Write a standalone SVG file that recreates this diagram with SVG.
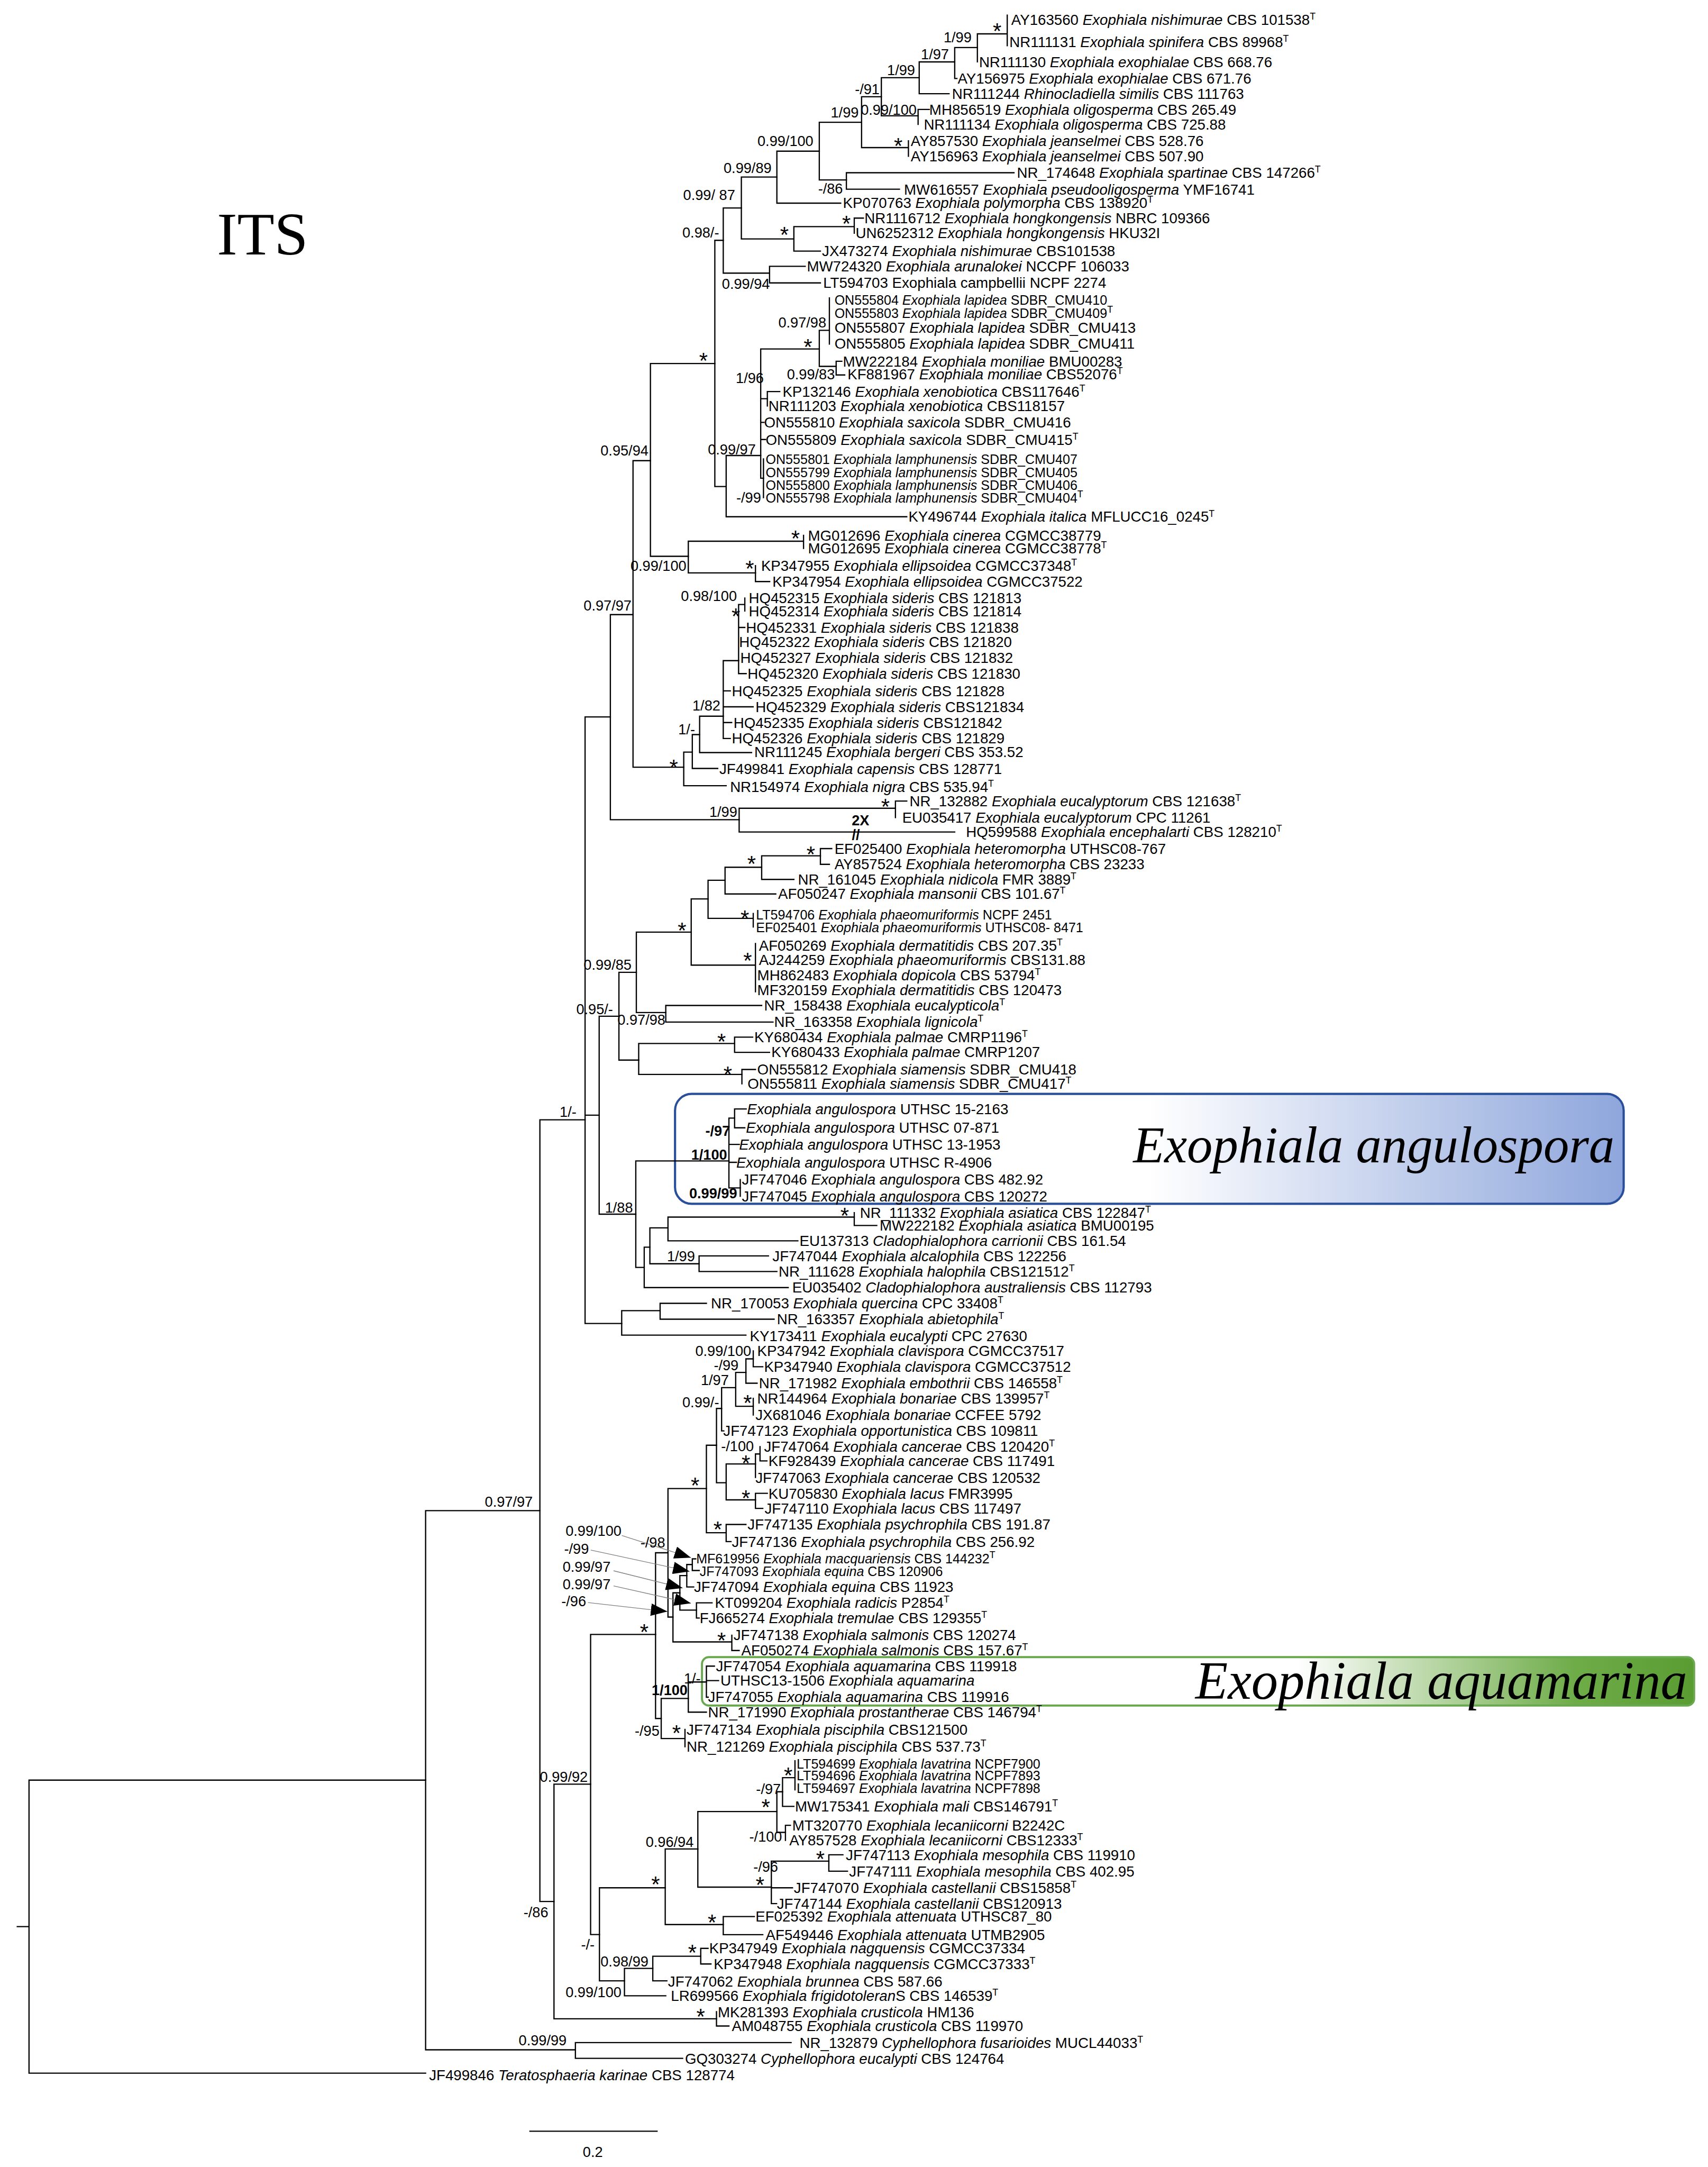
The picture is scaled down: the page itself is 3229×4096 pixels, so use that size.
<svg xmlns="http://www.w3.org/2000/svg" width="3229" height="4096" viewBox="0 0 3229 4096">
<style>
.l{font-family:"Liberation Sans",Arial,sans-serif;font-size:10.6px;fill:#000}
.lv{font-size:9.6px}
.i{font-style:italic}
.T{font-size:6.8px}
.s{font-family:"Liberation Sans",Arial,sans-serif;font-size:10.4px;text-anchor:middle;fill:#000}
.b{font-weight:bold}
.st{font-family:"Liberation Sans",Arial,sans-serif;font-size:16px;text-anchor:middle;fill:#000}
.br path{fill:none;stroke:#000;stroke-width:0.9;stroke-linecap:square}
.ld{fill:none;stroke:#808080;stroke-width:0.5}
.big{font-family:"Liberation Serif","Times New Roman",serif;font-style:italic;font-size:37px;fill:#000}
</style>
<defs>
<linearGradient id="gb" x1="0" y1="0" x2="1" y2="0"><stop offset="0" stop-color="#fff"/><stop offset="0.5" stop-color="#fff"/><stop offset="1" stop-color="#8ea6dc"/></linearGradient>
<linearGradient id="gg" x1="0" y1="0" x2="1" y2="0"><stop offset="0" stop-color="#fff"/><stop offset="0.6" stop-color="#fff"/><stop offset="0.88" stop-color="#6eac48"/><stop offset="1" stop-color="#5a9c32"/></linearGradient>
<marker id="ah" markerUnits="userSpaceOnUse" markerWidth="12" markerHeight="9" viewBox="0 0 12 9" refX="12" refY="4.5" orient="auto"><path d="M0,0L12,4.5L0,9z" fill="#000"/></marker>
</defs>
<rect width="3229" height="4096" fill="#fff"/>
<g transform="scale(2.6124)">
<g id="title"><text x="157" y="184" style="font-family:'Liberation Serif','Times New Roman',serif;font-size:44px">ITS</text></g>
<g id="box-angulospora"><rect x="488.5" y="791.5" width="686.5" height="79.5" rx="12" fill="url(#gb)" stroke="#2a4f9a" stroke-width="1.6"/><text class="big" x="820" y="841">Exophiala angulospora</text></g>
<g id="box-aquamarina"><rect x="508" y="1199" width="718" height="35" rx="5" fill="url(#gg)" stroke="#6aa84f" stroke-width="1.5"/><text class="big" x="865" y="1229" style="font-size:38.5px">Exophiala aquamarina</text></g>
<g id="branches" class="br">
<path d="M728.9 11V33M707.3 24.5V44.7M707.3 24.5H728.9"/>
<path d="M690.9 34.4V56.8M690.9 34.4H707.3M690.9 56.8H692.5"/>
<path d="M665.2 44.8V67.8M665.2 44.8H690.9M665.2 67.8H686.8"/>
<path d="M637.8 56.2V83.8M637.8 56.2H665.2M637.8 83.8H664.4"/>
<path d="M664.4 79.2V90M664.4 79.2H672.5"/>
<path d="M623.5 70V106.8M623.5 70H637.8M623.5 106.8H657.4M657.4 101.9V113"/>
<path d="M592.9 88.5V130.2M592.9 88.5H623.5M592.9 130.2H612.5"/>
<path d="M612.5 125V136.9M612.5 125H733.8M612.5 136.9H650.9"/>
<path d="M562.2 109.4V147M562.2 109.4H592.9M562.2 147H608.4"/>
<path d="M536.5 128.1V172.9M536.5 128.1H562.2M536.5 172.9H574.5"/>
<path d="M574.5 164V181.7M574.5 164H618.2M574.5 181.7H593.7M618.2 157.8V168.7M618.2 157.8H624.8"/>
<path d="M523.4 150.5V197.6M523.4 150.5H536.5M523.4 197.6H556.9"/>
<path d="M556.9 192.7V204.7M556.9 192.7H582.7M556.9 204.7H593.7"/>
<path d="M517.3 173.9V352M517.3 173.9H523.4M517.3 352H525.5"/>
<path d="M525.5 329.6V373.9M525.5 329.6H550.5M525.5 373.9H656.2"/>
<path d="M550.5 252.5V346M550.5 252.5H592.9M550.5 288.5H555.3M550.5 305.6H552.9M550.5 318H554M550.5 346H552.5"/>
<path d="M555.3 283.3V293.7M555.3 283.3H564.3M552.5 332V360"/>
<path d="M592.9 239V265.1M592.9 239H600.2M592.9 265.1H605.1M600.2 215.6V248.9"/>
<path d="M605.1 261.4V271.3M605.1 261.4H609.2M605.1 271.3H611.3"/>
<path d="M470.7 263V402.5M470.7 263H517.3M470.7 402.5H498.1"/>
<path d="M498.1 391.6V414.5M498.1 391.6H581.5M498.1 414.5H546.7M581.5 387.4V396.8"/>
<path d="M546.7 409.3V420.8M546.7 420.8H557"/>
<path d="M458.1 333.3V555.1M458.1 333.3H470.7M458.1 555.1H494.8"/>
<path d="M494.8 544.2V568.5M494.8 544.2H501M494.8 568.5H525.5"/>
<path d="M501 531.5V556M501 531.5H506.3M501 556H519.4"/>
<path d="M506.3 518.2V544.5M506.3 518.2H523.4M506.3 544.5H543.9"/>
<path d="M523.4 478V534.3M523.4 478H534.5M523.4 499.9H528.5M523.4 511.4H545M523.4 522.8H529.5M523.4 534.3H528.5"/>
<path d="M534.5 437.4V487.4M534.5 437.4H539M534.5 454H539M534.5 487.4H540M539 432.7V442.1"/>
<path d="M441.7 444.7V593.1M441.7 444.7H458.1M441.7 593.1H534.9"/>
<path d="M534.9 584.8V602M534.9 584.8H648M534.9 602H690.9M648 579.6V591.5M648 579.6H656.2"/>
<path d="M423.4 518.7V957.6M423.4 518.7H441.7M423.4 806.9H433.6M423.4 957.6H449.9"/>
<path d="M433.6 735.3V878.5M433.6 735.3H447.9M433.6 878.5H460.1"/>
<path d="M447.9 703.5V767M447.9 703.5H460.5M447.9 767H462.2"/>
<path d="M460.5 674.4V732.6M460.5 674.4H500.2M460.5 732.6H481.8"/>
<path d="M481.8 727.5V739.5M481.8 727.5H551.2M481.8 739.5H559.4"/>
<path d="M500.2 650.4V698.3M500.2 650.4H512.4M500.2 698.3H546.7M546.7 682.7V717.6"/>
<path d="M512.4 636.9V664.5M512.4 636.9H524.7M512.4 664.5H545.1M545.1 661V670.7"/>
<path d="M524.7 627.5V646.8M524.7 627.5H551.2M524.7 646.8H561.4"/>
<path d="M551.2 619.2V636.3M551.2 619.2H593.7M551.2 636.3H574.5"/>
<path d="M593.7 614V625.4M593.7 614H601.9M593.7 625.4H600.2"/>
<path d="M462.2 755V777.4M462.2 755H531.6M462.2 777.4H536.9"/>
<path d="M531.6 750.4V761.4M531.6 750.4H544.7M531.6 761.4H556.9"/>
<path d="M536.9 773.8V784.2M536.9 773.8H546.7"/>
<path d="M460.1 840V917M460.1 840H527.5M460.1 917H466.2"/>
<path d="M527.5 809V859.5M527.5 809H531.6M527.5 828H535M527.5 841H533M527.5 859.5H535.7"/>
<path d="M531.6 802.4V816M531.6 802.4H540M531.6 816H539M535.7 853.5V865.5"/>
<path d="M466.2 902.4V931.6M466.2 902.4H470.3M466.2 931.6H570.4"/>
<path d="M470.3 888.4V914.4M470.3 888.4H483.4M470.3 914.4H505.9"/>
<path d="M483.4 880.6V897.8M483.4 880.6H618.2M483.4 897.8H577.4"/>
<path d="M618.2 877.4V886.7M618.2 886.7H634.5"/>
<path d="M505.9 908.7V920M505.9 908.7H556.1M505.9 920H562.2"/>
<path d="M449.9 948.3V966M449.9 948.3H477.7M449.9 966H539.8"/>
<path d="M477.7 943V954.5M477.7 943H511.2M477.7 954.5H560.2"/>
<path d="M390.7 810.2V1375.8M390.7 810.2H423.4M390.7 1375.8H400.9"/>
<path d="M308 1093V1483.1M308 1093H390.7M308 1483.1H416.4"/>
<path d="M416.4 1477.9V1489.3M416.4 1477.9H572.5M416.4 1489.3H494"/>
<path d="M21 1288V1500M21 1288H308M21 1500H308M12.5 1394H21"/>
<path d="M400.9 1290.9V1460.7M400.9 1290.9H427.4M400.9 1460.7H518.5"/>
<path d="M518.5 1455.5V1465.9M518.5 1465.9H527.5"/>
<path d="M427.4 1182.6V1399.7M427.4 1182.6H474.4M427.4 1399.7H433.8"/>
<path d="M433.8 1365.9V1433.2M433.8 1365.9H481.4M433.8 1433.2H451.9"/>
<path d="M451.9 1424.2V1444M451.9 1424.2H472.4M451.9 1444H481.8"/>
<path d="M472.4 1415.4V1433.2M472.4 1415.4H507.1M472.4 1433.2H482.6"/>
<path d="M507.1 1409.7V1421M507.1 1409.7H512.4M507.1 1421H514.5"/>
<path d="M481.4 1337.8V1392.5M481.4 1337.8H505M481.4 1392.5H523.4"/>
<path d="M523.4 1386.7V1399.8M523.4 1386.7H545.9M523.4 1399.8H552"/>
<path d="M505 1310.7V1365.4M505 1310.7H562.2M505 1365.4H558.2"/>
<path d="M558.2 1346.6V1377.3M558.2 1346.6H599.8M558.2 1365.9H573.5M558.2 1377.3H562"/>
<path d="M599.8 1342V1353.9M599.8 1342H610M599.8 1353.9H613.3"/>
<path d="M562.2 1296.4V1325.8M562.2 1296.4H566.3M562.2 1325.8H568.4"/>
<path d="M566.3 1286.2V1307M566.3 1286.2H575.3M566.3 1307H574.5M575.3 1274V1295"/>
<path d="M568.4 1320.7V1331.6M568.4 1320.7H572"/>
<path d="M474.4 1123.5V1243.4M474.4 1123.5H483.4M474.4 1243.4H478.5"/>
<path d="M478.5 1228.9V1257.9M478.5 1228.9H498.1M478.5 1257.9H495.7M495.7 1251.3V1263.8"/>
<path d="M498.1 1217V1238.8M498.1 1217H511.2M498.1 1238.8H511.2"/>
<path d="M511.2 1205.5V1228M511.2 1205.5H517M511.2 1216H520M511.2 1228H512.5"/>
<path d="M483.4 1077V1170M483.4 1077H511.2M483.4 1170H487"/>
<path d="M487 1152.5V1188M487 1152.5H492M487 1188H529.6M529.6 1183.2V1194.2M529.6 1194.2H534.9"/>
<path d="M492 1140V1165M492 1140H497M492 1165H504"/>
<path d="M497 1132V1148.2M497 1132H501M497 1148.2H502"/>
<path d="M501 1127.9V1136.3M501 1127.9H503.5M501 1136.3H506"/>
<path d="M504 1159.7V1170.7M504 1159.7H515.3M504 1170.7H506"/>
<path d="M511.2 1045.7V1109M511.2 1045.7H518.5M511.2 1109H525.5"/>
<path d="M525.5 1103V1115.4M525.5 1103H539.8M525.5 1115.4H529"/>
<path d="M518.5 1019.1V1072.8M518.5 1019.1H522.2M518.5 1072.8H525.5"/>
<path d="M522.2 1004V1035.3M522.2 1004H532.4M522.2 1035.3H523.8"/>
<path d="M532.4 993V1017.5M532.4 993H539.8M532.4 1017.5H545.1"/>
<path d="M539.8 983.2V1000.8M539.8 983.2H545.1M539.8 1000.8H547.9"/>
<path d="M545.1 977.4V988.9M545.1 988.9H552M545.1 1011.8V1023.8"/>
<path d="M525.5 1059.2V1085.2M525.5 1059.2H546.7M525.5 1085.2H546.7"/>
<path d="M546.7 1052V1069M546.7 1052H550M550 1046.7V1057M550 1057H555"/>
<path d="M546.7 1080.5V1091.4M546.7 1080.5H555.3M546.7 1091.4H552"/>
<path d="M383.5 1542H475.5"/>
</g>
<g id="leaders">
<path class="ld" d="M450 1111L500 1127" marker-end="url(#ah)"/>
<path class="ld" d="M427.5 1121.5L499 1137" marker-end="url(#ah)"/>
<path class="ld" d="M444 1136.5L494 1149" marker-end="url(#ah)"/>
<path class="ld" d="M444 1147.5L500 1160" marker-end="url(#ah)"/>
<path class="ld" d="M425.5 1159.5L483 1166" marker-end="url(#ah)"/>
</g>
<g id="supports">
<text class="s" x="693" y="30.7">1/99</text>
<text class="s" x="676.6" y="42.8">1/97</text>
<text class="s" x="652.1" y="54.2">1/99</text>
<text class="s" x="627.6" y="68.3">-/91</text>
<text class="s" x="643.1" y="82.9">0.99/100</text>
<text class="s" x="611.3" y="84.9">1/99</text>
<text class="s" x="568.4" y="105.8">0.99/100</text>
<text class="s" x="601" y="140.1">-/86</text>
<text class="s" x="541" y="125">0.99/89</text>
<text class="s" x="513.2" y="144.8">0.99/ 87</text>
<text class="s" x="507.1" y="171.9">0.98/-</text>
<text class="s" x="539.8" y="208.9">0.99/94</text>
<text class="s" x="580.6" y="237">0.97/98</text>
<text class="s" x="586.8" y="274.5">0.99/83</text>
<text class="s" x="542.6" y="277.1">1/96</text>
<text class="s" x="529.6" y="328.7">0.99/97</text>
<text class="s" x="541.8" y="363.5">-/99</text>
<text class="s" x="451.9" y="329.7">0.95/94</text>
<text class="s" x="476.5" y="413">0.99/100</text>
<text class="s" x="439.7" y="441.7">0.97/97</text>
<text class="s" x="513" y="435">0.98/100</text>
<text class="s" x="511.2" y="514.1">1/82</text>
<text class="s" x="496.9" y="531.2">1/-</text>
<text class="s" x="523.4" y="591.1">1/99</text>
<text class="s b" x="622.7" y="597.3">2X</text>
<text class="s b" x="619.4" y="607.5">//</text>
<text class="s" x="439.7" y="701.5">0.99/85</text>
<text class="s" x="430.3" y="733.8">0.95/-</text>
<text class="s" x="464.2" y="741.6">0.97/98</text>
<text class="s" x="411.1" y="808.2">1/-</text>
<text class="s b" x="519.4" y="821.8">-/97</text>
<text class="s b" x="513.2" y="839">1/100</text>
<text class="s b" x="516.1" y="867.1">0.99/99</text>
<text class="s" x="447.9" y="877.5">1/88</text>
<text class="s" x="492.8" y="912.4">1/99</text>
<text class="s" x="368.2" y="1090">0.97/97</text>
<text class="s" x="523.4" y="981.2">0.99/100</text>
<text class="s" x="525.5" y="991.6">-/99</text>
<text class="s" x="517.3" y="1002">1/97</text>
<text class="s" x="507.1" y="1018.1">0.99/-</text>
<text class="s" x="533.7" y="1050">-/100</text>
<text class="s" x="472.4" y="1119.6">-/98</text>
<text class="s" x="429.5" y="1111.3">0.99/100</text>
<text class="s" x="417.2" y="1124.3">-/99</text>
<text class="s" x="424.5" y="1137.3">0.99/97</text>
<text class="s" x="424.5" y="1149.8">0.99/97</text>
<text class="s" x="415.2" y="1162.3">-/96</text>
<text class="s" x="501" y="1218">1/-</text>
<text class="s b" x="484.6" y="1226.3">1/100</text>
<text class="s" x="468.3" y="1256">-/95</text>
<text class="s" x="408" y="1289.2">0.99/92</text>
<text class="s" x="556.1" y="1298.2">-/97</text>
<text class="s" x="554.1" y="1332.6">-/100</text>
<text class="s" x="484.6" y="1336.2">0.96/94</text>
<text class="s" x="554.1" y="1354.5">-/96</text>
<text class="s" x="387.8" y="1387.3">-/86</text>
<text class="s" x="425.4" y="1410.7">-/-</text>
<text class="s" x="451.9" y="1422.7">0.98/99</text>
<text class="s" x="429.5" y="1445.1">0.99/100</text>
<text class="s" x="392.7" y="1480">0.99/99</text>
<text class="s" x="429" y="1560.5">0.2</text>
</g>
<g id="stars">
<text class="st" x="721.6" y="27.8">*</text>
<text class="st" x="650" y="111.1">*</text>
<text class="st" x="567.6" y="175.2">*</text>
<text class="st" x="612.5" y="167.4">*</text>
<text class="st" x="509.1" y="266.3">*</text>
<text class="st" x="584.7" y="256.4">*</text>
<text class="st" x="575.7" y="395">*</text>
<text class="st" x="542.6" y="416.8">*</text>
<text class="st" x="532.5" y="451.5">*</text>
<text class="st" x="487.5" y="560.6">*</text>
<text class="st" x="640.7" y="589.2">*</text>
<text class="st" x="586.8" y="623.6">*</text>
<text class="st" x="543.9" y="630.3">*</text>
<text class="st" x="539" y="669.9">*</text>
<text class="st" x="493.6" y="678.8">*</text>
<text class="st" x="541" y="700.6">*</text>
<text class="st" x="522.2" y="758.9">*</text>
<text class="st" x="526.7" y="782.9">*</text>
<text class="st" x="611.3" y="885">*</text>
<text class="st" x="541" y="1020.4">*</text>
<text class="st" x="539.8" y="1064.1">*</text>
<text class="st" x="539.8" y="1089.6">*</text>
<text class="st" x="503" y="1080.3">*</text>
<text class="st" x="519.4" y="1112.1">*</text>
<text class="st" x="522.2" y="1192.2">*</text>
<text class="st" x="466.2" y="1186.4">*</text>
<text class="st" x="489.5" y="1259.3">*</text>
<text class="st" x="570.4" y="1290.1">*</text>
<text class="st" x="554.1" y="1313">*</text>
<text class="st" x="593.7" y="1350.5">*</text>
<text class="st" x="550" y="1369.2">*</text>
<text class="st" x="474.4" y="1368.7">*</text>
<text class="st" x="515.3" y="1396.3">*</text>
<text class="st" x="501" y="1418.2">*</text>
<text class="st" x="507.1" y="1464.6">*</text>
</g>
<g id="leaves">
<g id="L1"><text class="l" x="731.8" y="17.8">AY163560 <tspan class="i">Exophiala nishimurae</tspan> CBS 101538<tspan class="T" dy="-3.8">T</tspan></text></g>
<g id="L2"><text class="l" x="730.5" y="33.9">NR111131 <tspan class="i">Exophiala spinifera</tspan> CBS 89968<tspan class="T" dy="-3.8">T</tspan></text></g>
<g id="L3"><text class="l" x="708.5" y="48.5">NR111130 <tspan class="i">Exophiala exophialae</tspan> CBS 668.76</text></g>
<g id="L4"><text class="l" x="693" y="60.5">AY156975 <tspan class="i">Exophiala exophialae</tspan> CBS 671.76</text></g>
<g id="L5"><text class="l" x="688.9" y="71.6">NR111244 <tspan class="i">Rhinocladiella similis</tspan> CBS 111763</text></g>
<g id="L6"><text class="l" x="672.5" y="82.9">MH856519 <tspan class="i">Exophiala oligosperma</tspan> CBS 265.49</text></g>
<g id="L7"><text class="l" x="668.5" y="93.8">NR111134 <tspan class="i">Exophiala oligosperma</tspan> CBS 725.88</text></g>
<g id="L8"><text class="l" x="659.1" y="105.6">AY857530 <tspan class="i">Exophiala jeanselmei</tspan> CBS 528.76</text></g>
<g id="L9"><text class="l" x="659.1" y="116.7">AY156963 <tspan class="i">Exophiala jeanselmei</tspan> CBS 507.90</text></g>
<g id="L10"><text class="l" x="735.9" y="128.7">NR_174648 <tspan class="i">Exophiala spartinae</tspan> CBS 147266<tspan class="T" dy="-3.8">T</tspan></text></g>
<g id="L11"><text class="l" x="654.2" y="140.7">MW616557 <tspan class="i">Exophiala pseudooligosperma</tspan> YMF16741</text></g>
<g id="L12"><text class="l" x="610" y="150.5">KP070763 <tspan class="i">Exophiala polymorpha</tspan> CBS 138920<tspan class="T" dy="-3.8">T</tspan></text></g>
<g id="L13"><text class="l" x="625.6" y="161.5">NR1116712 <tspan class="i">Exophiala hongkongensis</tspan> NBRC 109366</text></g>
<g id="L14"><text class="l" x="619.2" y="172.4">UN6252312 <tspan class="i">Exophiala hongkongensis</tspan> HKU32I</text></g>
<g id="L15"><text class="l" x="594.9" y="185.4">JX473274 <tspan class="i">Exophiala nishimurae</tspan> CBS101538</text></g>
<g id="L16"><text class="l" x="583.9" y="196.4">MW724320 <tspan class="i">Exophiala arunalokei</tspan> NCCPF 106033</text></g>
<g id="L17"><text class="l" x="595.7" y="208.4">LT594703 Exophiala campbellii NCPF 2274</text></g>
<g id="L18"><text class="l lv" x="603.9" y="220.6">ON555804 <tspan class="i">Exophiala lapidea</tspan> SDBR_CMU410</text></g>
<g id="L19"><text class="l lv" x="603.9" y="229.9">ON555803 <tspan class="i">Exophiala lapidea</tspan> SDBR_CMU409<tspan class="T" dy="-3.8">T</tspan></text></g>
<g id="L20"><text class="l" x="603.9" y="240.6">ON555807 <tspan class="i">Exophiala lapidea</tspan> SDBR_CMU413</text></g>
<g id="L21"><text class="l" x="603.9" y="252.1">ON555805 <tspan class="i">Exophiala lapidea</tspan> SDBR_CMU411</text></g>
<g id="L22"><text class="l" x="610" y="265.1">MW222184 <tspan class="i">Exophiala moniliae</tspan> BMU00283</text></g>
<g id="L23"><text class="l" x="613.3" y="274.5">KF881967 <tspan class="i">Exophiala moniliae</tspan> CBS52076<tspan class="T" dy="-3.8">T</tspan></text></g>
<g id="L24"><text class="l" x="566.3" y="287">KP132146 <tspan class="i">Exophiala xenobiotica</tspan> CBS117646<tspan class="T" dy="-3.8">T</tspan></text></g>
<g id="L25"><text class="l" x="556.1" y="297.4">NR111203 <tspan class="i">Exophiala xenobiotica</tspan> CBS118157</text></g>
<g id="L26"><text class="l" x="552.9" y="309.4">ON555810 <tspan class="i">Exophiala saxicola</tspan> SDBR_CMU416</text></g>
<g id="L27"><text class="l" x="554.1" y="321.9">ON555809 <tspan class="i">Exophiala saxicola</tspan> SDBR_CMU415<tspan class="T" dy="-3.8">T</tspan></text></g>
<g id="L28"><text class="l lv" x="554.1" y="335.7">ON555801 <tspan class="i">Exophiala lamphunensis</tspan> SDBR_CMU407</text></g>
<g id="L29"><text class="l lv" x="554.1" y="345.1">ON555799 <tspan class="i">Exophiala lamphunensis</tspan> SDBR_CMU405</text></g>
<g id="L30"><text class="l lv" x="554.1" y="354.5">ON555800 <tspan class="i">Exophiala lamphunensis</tspan> SDBR_CMU406</text></g>
<g id="L31"><text class="l lv" x="554.1" y="363.7">ON555798 <tspan class="i">Exophiala lamphunensis</tspan> SDBR_CMU404<tspan class="T" dy="-3.8">T</tspan></text></g>
<g id="L32"><text class="l" x="657.4" y="377.6">KY496744 <tspan class="i">Exophiala italica</tspan> MFLUCC16_0245<tspan class="T" dy="-3.8">T</tspan></text></g>
<g id="L33"><text class="l" x="584.7" y="391.1">MG012696 <tspan class="i">Exophiala cinerea</tspan> CGMCC38779</text></g>
<g id="L34"><text class="l" x="584.7" y="400.5">MG012695 <tspan class="i">Exophiala cinerea</tspan> CGMCC38778<tspan class="T" dy="-3.8">T</tspan></text></g>
<g id="L35"><text class="l" x="550.8" y="413">KP347955 <tspan class="i">Exophiala ellipsoidea</tspan> CGMCC37348<tspan class="T" dy="-3.8">T</tspan></text></g>
<g id="L36"><text class="l" x="559" y="424.5">KP347954 <tspan class="i">Exophiala ellipsoidea</tspan> CGMCC37522</text></g>
<g id="L37"><text class="l" x="541.8" y="436.5">HQ452315 <tspan class="i">Exophiala sideris</tspan> CBS 121813</text></g>
<g id="L38"><text class="l" x="541.8" y="445.8">HQ452314 <tspan class="i">Exophiala sideris</tspan> CBS 121814</text></g>
<g id="L39"><text class="l" x="539.8" y="457.8">HQ452331 <tspan class="i">Exophiala sideris</tspan> CBS 121838</text></g>
<g id="L40"><text class="l" x="534.9" y="468.2">HQ452322 <tspan class="i">Exophiala sideris</tspan> CBS 121820</text></g>
<g id="L41"><text class="l" x="535.7" y="479.7">HQ452327 <tspan class="i">Exophiala sideris</tspan> CBS 121832</text></g>
<g id="L42"><text class="l" x="541" y="491.1">HQ452320 <tspan class="i">Exophiala sideris</tspan> CBS 121830</text></g>
<g id="L43"><text class="l" x="529.6" y="503.6">HQ452325 <tspan class="i">Exophiala sideris</tspan> CBS 121828</text></g>
<g id="L44"><text class="l" x="546.7" y="515.1">HQ452329 <tspan class="i">Exophiala sideris</tspan> CBS121834</text></g>
<g id="L45"><text class="l" x="530.8" y="526.6">HQ452335 <tspan class="i">Exophiala sideris</tspan> CBS121842</text></g>
<g id="L46"><text class="l" x="529.6" y="538">HQ452326 <tspan class="i">Exophiala sideris</tspan> CBS 121829</text></g>
<g id="L47"><text class="l" x="545.9" y="547.9">NR111245 <tspan class="i">Exophiala bergeri</tspan> CBS 353.52</text></g>
<g id="L48"><text class="l" x="520.6" y="560.2">JF499841 <tspan class="i">Exophiala capensis</tspan> CBS 128771</text></g>
<g id="L49"><text class="l" x="528.3" y="572.9">NR154974 <tspan class="i">Exophiala nigra</tspan> CBS 535.94<tspan class="T" dy="-3.8">T</tspan></text></g>
<g id="L50"><text class="l" x="658.2" y="583.3">NR_132882 <tspan class="i">Exophiala eucalyptorum</tspan> CBS 121638<tspan class="T" dy="-3.8">T</tspan></text></g>
<g id="L51"><text class="l" x="652.9" y="595.3">EU035417 <tspan class="i">Exophiala eucalyptorum</tspan> CPC 11261</text></g>
<g id="L52"><text class="l" x="699.1" y="605.7">HQ599588 <tspan class="i">Exophiala encephalarti</tspan> CBS 128210<tspan class="T" dy="-3.8">T</tspan></text></g>
<g id="L53"><text class="l" x="603.9" y="617.7">EF025400 <tspan class="i">Exophiala heteromorpha</tspan> UTHSC08-767</text></g>
<g id="L54"><text class="l" x="603.9" y="629.1">AY857524 <tspan class="i">Exophiala heteromorpha</tspan> CBS 23233</text></g>
<g id="L55"><text class="l" x="577.4" y="640.1">NR_161045 <tspan class="i">Exophiala nidicola</tspan> FMR 3889<tspan class="T" dy="-3.8">T</tspan></text></g>
<g id="L56"><text class="l" x="563.1" y="650.5">AF050247 <tspan class="i">Exophiala mansonii</tspan> CBS 101.67<tspan class="T" dy="-3.8">T</tspan></text></g>
<g id="L57"><text class="l lv" x="547.1" y="665.3">LT594706 <tspan class="i">Exophiala phaeomuriformis</tspan> NCPF 2451</text></g>
<g id="L58"><text class="l lv" x="547.1" y="674.6">EF025401 <tspan class="i">Exophiala phaeomuriformis</tspan> UTHSC08- 8471</text></g>
<g id="L59"><text class="l" x="549.2" y="688">AF050269 <tspan class="i">Exophiala dermatitidis</tspan> CBS 207.35<tspan class="T" dy="-3.8">T</tspan></text></g>
<g id="L60"><text class="l" x="549.2" y="698.3">AJ244259 <tspan class="i">Exophiala phaeomuriformis</tspan> CBS131.88</text></g>
<g id="L61"><text class="l" x="548" y="709.3">MH862483 <tspan class="i">Exophiala dopicola</tspan> CBS 53794<tspan class="T" dy="-3.8">T</tspan></text></g>
<g id="L62"><text class="l" x="548" y="720.2">MF320159 <tspan class="i">Exophiala dermatitidis</tspan> CBS 120473</text></g>
<g id="L63"><text class="l" x="552.9" y="731.2">NR_158438 <tspan class="i">Exophiala eucalypticola</tspan><tspan class="T" dy="-3.8">T</tspan></text></g>
<g id="L64"><text class="l" x="560.2" y="743.1">NR_163358 <tspan class="i">Exophiala lignicola</tspan><tspan class="T" dy="-3.8">T</tspan></text></g>
<g id="L65"><text class="l" x="545.9" y="754.1">KY680434 <tspan class="i">Exophiala palmae</tspan> CMRP1196<tspan class="T" dy="-3.8">T</tspan></text></g>
<g id="L66"><text class="l" x="558.2" y="765">KY680433 <tspan class="i">Exophiala palmae</tspan> CMRP1207</text></g>
<g id="L67"><text class="l" x="548" y="777.5">ON555812 <tspan class="i">Exophiala siamensis</tspan> SDBR_CMU418</text></g>
<g id="L68"><text class="l" x="541" y="787.9">ON555811 <tspan class="i">Exophiala siamensis</tspan> SDBR_CMU417<tspan class="T" dy="-3.8">T</tspan></text></g>
<g id="L69"><text class="l" x="540.6" y="806.1"><tspan class="i">Exophiala angulospora</tspan> UTHSC 15-2163</text></g>
<g id="L70"><text class="l" x="539.8" y="819.7"><tspan class="i">Exophiala angulospora</tspan> UTHSC 07-871</text></g>
<g id="L71"><text class="l" x="534.9" y="831.7"><tspan class="i">Exophiala angulospora</tspan> UTHSC 13-1953</text></g>
<g id="L72"><text class="l" x="532.8" y="844.7"><tspan class="i">Exophiala angulospora</tspan> UTHSC R-4906</text></g>
<g id="L73"><text class="l" x="536.9" y="857.2">JF747046 <tspan class="i">Exophiala angulospora</tspan> CBS 482.92</text></g>
<g id="L74"><text class="l" x="536.9" y="869.2">JF747045 <tspan class="i">Exophiala angulospora</tspan> CBS 120272</text></g>
<g id="L75"><text class="l" x="622.3" y="881.1">NR_111332 <tspan class="i">Exophiala asiatica</tspan> CBS 122847<tspan class="T" dy="-3.8">T</tspan></text></g>
<g id="L76"><text class="l" x="636.6" y="890.5">MW222182 <tspan class="i">Exophiala asiatica</tspan> BMU00195</text></g>
<g id="L77"><text class="l" x="578.6" y="901.5">EU137313 <tspan class="i">Cladophialophora carrionii</tspan> CBS 161.54</text></g>
<g id="L78"><text class="l" x="559" y="912.4">JF747044 <tspan class="i">Exophiala alcalophila</tspan> CBS 122256</text></g>
<g id="L79"><text class="l" x="563.5" y="923.8">NR_111628 <tspan class="i">Exophiala halophila</tspan> CBS121512<tspan class="T" dy="-3.8">T</tspan></text></g>
<g id="L80"><text class="l" x="573.3" y="935.3">EU035402 <tspan class="i">Cladophialophora australiensis</tspan> CBS 112793</text></g>
<g id="L81"><text class="l" x="514.5" y="946.7">NR_170053 <tspan class="i">Exophiala quercina</tspan> CPC 33408<tspan class="T" dy="-3.8">T</tspan></text></g>
<g id="L82"><text class="l" x="562.2" y="958.2">NR_163357 <tspan class="i">Exophiala abietophila</tspan><tspan class="T" dy="-3.8">T</tspan></text></g>
<g id="L83"><text class="l" x="542.6" y="970.2">KY173411 <tspan class="i">Exophiala eucalypti</tspan> CPC 27630</text></g>
<g id="L84"><text class="l" x="548" y="981.2">KP347942 <tspan class="i">Exophiala clavispora</tspan> CGMCC37517</text></g>
<g id="L85"><text class="l" x="552.9" y="992.6">KP347940 <tspan class="i">Exophiala clavispora</tspan> CGMCC37512</text></g>
<g id="L86"><text class="l" x="549.2" y="1004.6">NR_171982 <tspan class="i">Exophiala embothrii</tspan> CBS 146558<tspan class="T" dy="-3.8">T</tspan></text></g>
<g id="L87"><text class="l" x="548" y="1015.5">NR144964 <tspan class="i">Exophiala bonariae</tspan> CBS 139957<tspan class="T" dy="-3.8">T</tspan></text></g>
<g id="L88"><text class="l" x="546.7" y="1027.5">JX681046 <tspan class="i">Exophiala bonariae</tspan> CCFEE 5792</text></g>
<g id="L89"><text class="l" x="523.4" y="1039">JF747123 <tspan class="i">Exophiala opportunistica</tspan> CBS 109811</text></g>
<g id="L90"><text class="l" x="552.9" y="1050.4">JF747064 <tspan class="i">Exophiala cancerae</tspan> CBS 120420<tspan class="T" dy="-3.8">T</tspan></text></g>
<g id="L91"><text class="l" x="556.1" y="1060.8">KF928439 <tspan class="i">Exophiala cancerae</tspan> CBS 117491</text></g>
<g id="L92"><text class="l" x="546.7" y="1072.8">JF747063 <tspan class="i">Exophiala cancerae</tspan> CBS 120532</text></g>
<g id="L93"><text class="l" x="556.1" y="1084.3">KU705830 <tspan class="i">Exophiala lacus</tspan> FMR3995</text></g>
<g id="L94"><text class="l" x="553.3" y="1095.2">JF747110 <tspan class="i">Exophiala lacus</tspan> CBS 117497</text></g>
<g id="L95"><text class="l" x="541" y="1106.7">JF747135 <tspan class="i">Exophiala psychrophila</tspan> CBS 191.87</text></g>
<g id="L96"><text class="l" x="529.6" y="1119.1">JF747136 <tspan class="i">Exophiala psychrophila</tspan> CBS 256.92</text></g>
<g id="L97"><text class="l lv" x="503.8" y="1131.2">MF619956 <tspan class="i">Exophiala macquariensis</tspan> CBS 144232<tspan class="T" dy="-3.8">T</tspan></text></g>
<g id="L98"><text class="l lv" x="506.3" y="1140.4">JF747093 <tspan class="i">Exophiala equina</tspan> CBS 120906</text></g>
<g id="L99"><text class="l" x="502.2" y="1151.9">JF747094 <tspan class="i">Exophiala equina</tspan> CBS 11923</text></g>
<g id="L100"><text class="l" x="517.3" y="1163.3">KT099204 <tspan class="i">Exophiala radicis</tspan> P2854<tspan class="T" dy="-3.8">T</tspan></text></g>
<g id="L101"><text class="l" x="506.3" y="1174.3">FJ665274 <tspan class="i">Exophiala tremulae</tspan> CBS 129355<tspan class="T" dy="-3.8">T</tspan></text></g>
<g id="L102"><text class="l" x="530.8" y="1186.8">JF747138 <tspan class="i">Exophiala salmonis</tspan> CBS 120274</text></g>
<g id="L103"><text class="l" x="536.5" y="1197.7">AF050274 <tspan class="i">Exophiala salmonis</tspan> CBS 157.67<tspan class="T" dy="-3.8">T</tspan></text></g>
<g id="L104"><text class="l" x="518.1" y="1209.2">JF747054 <tspan class="i">Exophiala aquamarina</tspan> CBS 119918</text></g>
<g id="L105"><text class="l" x="521.4" y="1219.6">UTHSC13-1506 <tspan class="i">Exophiala aquamarina</tspan></text></g>
<g id="L106"><text class="l" x="512.4" y="1231.6">JF747055 <tspan class="i">Exophiala aquamarina</tspan> CBS 119916</text></g>
<g id="L107"><text class="l" x="512.4" y="1242.5">NR_171990 <tspan class="i">Exophiala prostantherae</tspan> CBS 146794<tspan class="T" dy="-3.8">T</tspan></text></g>
<g id="L108"><text class="l" x="496.9" y="1255">JF747134 <tspan class="i">Exophiala pisciphila</tspan> CBS121500</text></g>
<g id="L109"><text class="l" x="496.9" y="1267.5">NR_121269 <tspan class="i">Exophiala pisciphila</tspan> CBS 537.73<tspan class="T" dy="-3.8">T</tspan></text></g>
<g id="L110"><text class="l lv" x="576.5" y="1279.6">LT594699 <tspan class="i">Exophiala lavatrina</tspan> NCPF7900</text></g>
<g id="L111"><text class="l lv" x="576.5" y="1288.2">LT594696 <tspan class="i">Exophiala lavatrina</tspan> NCPF7893</text></g>
<g id="L112"><text class="l lv" x="576.5" y="1297.2">LT594697 <tspan class="i">Exophiala lavatrina</tspan> NCPF7898</text></g>
<g id="L113"><text class="l" x="575.3" y="1310.7">MW175341 <tspan class="i">Exophiala mali</tspan> CBS146791<tspan class="T" dy="-3.8">T</tspan></text></g>
<g id="L114"><text class="l" x="573.3" y="1324.3">MT320770 <tspan class="i">Exophiala lecaniicorni</tspan> B2242C</text></g>
<g id="L115"><text class="l" x="571.2" y="1335.2">AY857528 <tspan class="i">Exophiala lecaniicorni</tspan> CBS12333<tspan class="T" dy="-3.8">T</tspan></text></g>
<g id="L116"><text class="l" x="612.1" y="1345.7">JF747113 <tspan class="i">Exophiala mesophila</tspan> CBS 119910</text></g>
<g id="L117"><text class="l" x="614.5" y="1357.6">JF747111 <tspan class="i">Exophiala mesophila</tspan> CBS 402.95</text></g>
<g id="L118"><text class="l" x="574.5" y="1369.6">JF747070 <tspan class="i">Exophiala castellanii</tspan> CBS15858<tspan class="T" dy="-3.8">T</tspan></text></g>
<g id="L119"><text class="l" x="562.2" y="1381">JF747144 <tspan class="i">Exophiala castellanii</tspan> CBS120913</text></g>
<g id="L120"><text class="l" x="546.7" y="1390.4">EF025392 <tspan class="i">Exophiala attenuata</tspan> UTHSC87_80</text></g>
<g id="L121"><text class="l" x="554.1" y="1403.5">AF549446 <tspan class="i">Exophiala attenuata</tspan> UTMB2905</text></g>
<g id="L122"><text class="l" x="513.2" y="1413.3">KP347949 <tspan class="i">Exophiala nagquensis</tspan> CGMCC37334</text></g>
<g id="L123"><text class="l" x="516.5" y="1424.8">KP347948 <tspan class="i">Exophiala nagquensis</tspan> CGMCC37333<tspan class="T" dy="-3.8">T</tspan></text></g>
<g id="L124"><text class="l" x="483.4" y="1437.3">JF747062 <tspan class="i">Exophiala brunnea</tspan> CBS 587.66</text></g>
<g id="L125"><text class="l" x="485.5" y="1447.7">LR699566 <tspan class="i">Exophiala frigidotoleran</tspan>S CBS 146539<tspan class="T" dy="-3.8">T</tspan></text></g>
<g id="L126"><text class="l" x="519.4" y="1459.7">MK281393 <tspan class="i">Exophiala crusticola</tspan> HM136</text></g>
<g id="L127"><text class="l" x="529.6" y="1469.6">AM048755 <tspan class="i">Exophiala crusticola</tspan> CBS 119970</text></g>
<g id="L128"><text class="l" x="578.6" y="1481.6">NR_132879 <tspan class="i">Cyphellophora fusarioides</tspan> MUCL44033<tspan class="T" dy="-3.8">T</tspan></text></g>
<g id="L129"><text class="l" x="495.7" y="1493.1">GQ303274 <tspan class="i">Cyphellophora eucalypti</tspan> CBS 124764</text></g>
<g id="L130"><text class="l" x="310.5" y="1505">JF499846 <tspan class="i">Teratosphaeria karinae</tspan> CBS 128774</text></g>
</g>
</g>
</svg>
